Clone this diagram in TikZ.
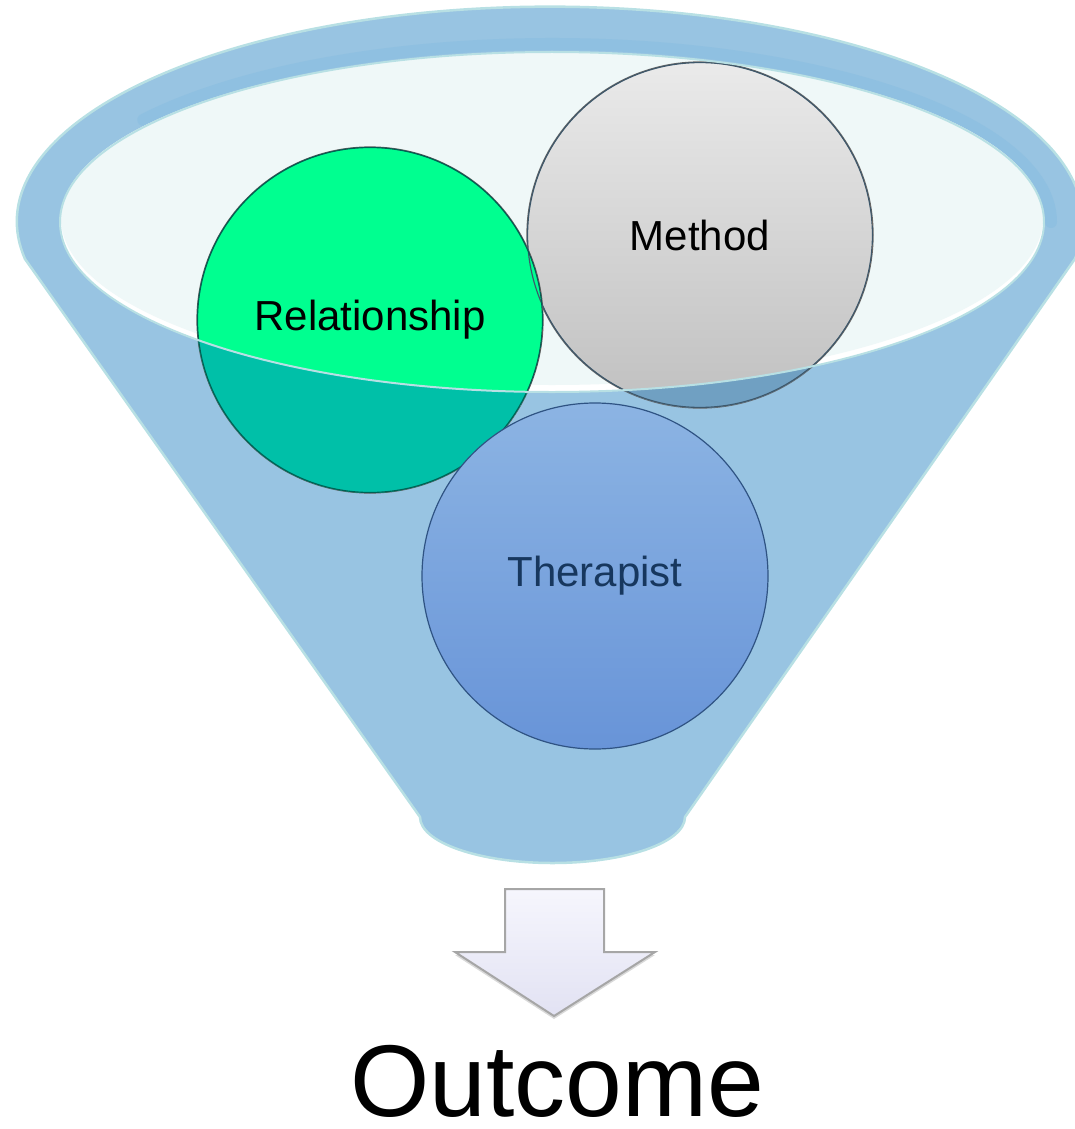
\documentclass[tikz,border=0pt]{standalone}
\usepackage{fontspec}
\setmainfont{Liberation Sans}
\usetikzlibrary{shadows}
\definecolor{funnelblue}{HTML}{98C4E2}
\definecolor{rimline}{HTML}{B8E0E4}
\definecolor{rimdark}{HTML}{8FC0E1}
\definecolor{glass}{HTML}{EFF8F8}
\definecolor{relgreen}{HTML}{00FF90}
\definecolor{relgreendark}{HTML}{00C0A8}
\definecolor{methtop}{HTML}{EAEAEA}
\definecolor{methbot}{HTML}{C0C0C0}
\definecolor{methdark}{HTML}{70A0C2}
\definecolor{thertop}{HTML}{8CB4E3}
\definecolor{therbot}{HTML}{6894D8}
\definecolor{thertext}{HTML}{17375E}
\definecolor{arrowtop}{HTML}{F6F6FD}
\definecolor{arrowbot}{HTML}{E2E2F3}
\begin{document}
\begin{tikzpicture}[x=1pt,y=-1pt,
  ball/.style={circle, inner sep=0pt, minimum size=346pt, font=\fontsize{42}{48}\selectfont},
  funnelshape/.style={fill=funnelblue, draw=rimline, line width=2.5pt, line join=round},
  frontline/.style={draw=rimline, line width=2pt}]
\useasboundingbox (0,0) rectangle (1075,1129);
% funnel body (back)
\path[funnelshape] (25,259) arc[start angle=170, end angle=370, x radius=533, y radius=215]
  -- (685,817) arc[start angle=0, end angle=180, x radius=132.5, y radius=46] -- cycle;
% darker inner band of the rim
\draw[rimdark, line width=12pt, line cap=round] (552,222) ++(215:499 and 178) arc[start angle=215, end angle=360, x radius=499, y radius=178];
% opening
\fill[white] (552,222) ellipse[x radius=492, y radius=170];
\fill[glass] (552,218.5) ellipse[x radius=491, y radius=166.5];
% circles
\node[ball, draw=black!60, line width=1.3pt, top color=methtop, bottom color=methbot] (method) at (700,235) {Method};
\node[ball, draw=black!65, line width=1.2pt, fill=relgreen] (rel) at (370,320) {Relationship};
% front of funnel over the lower parts of the circles
\begin{scope}
  \clip (method.center) circle[radius=173];
  \fill[methdark, even odd rule] (0,0) rectangle (1075,1129) (552,222) ellipse[x radius=492, y radius=170];
  \draw[black!45!methdark, line width=1.3pt] (method.center) circle[radius=172.5];
\end{scope}
\begin{scope}
  \clip (rel.center) circle[radius=173];
  \fill[relgreendark, even odd rule] (0,0) rectangle (1075,1129) (552,222) ellipse[x radius=492, y radius=170];
  \draw[black!50!relgreendark, line width=1.2pt] (rel.center) circle[radius=172.5];
\end{scope}
\draw[frontline] (552,222) ellipse[x radius=492, y radius=170];
\node[ball, draw=thertext!70!therbot, line width=1.2pt, top color=thertop, bottom color=therbot, text=thertext] (ther) at (595,576) {Therapist};
% arrow
\coordinate (a1) at (505,889);
\coordinate (a2) at (604,889);
\coordinate (a3) at (604,952);
\coordinate (a4) at (655,952);
\coordinate (tip) at (554,1016);
\coordinate (a6) at (455,952);
\coordinate (a7) at (505,952);
\path[draw=black!35, line width=2pt, line join=miter, top color=arrowtop, bottom color=arrowbot,
  drop shadow={shadow xshift=0pt, shadow yshift=-3pt, opacity=0.25, fill=black!60}]
  (a1) -- (a2) -- (a3) -- (a4) -- (tip) -- (a6) -- (a7) -- cycle;
\node[font=\fontsize{102}{110}\selectfont, anchor=base, inner sep=0pt] (outcome) at (557,1116) {Outcome};
\end{tikzpicture}
\end{document}
